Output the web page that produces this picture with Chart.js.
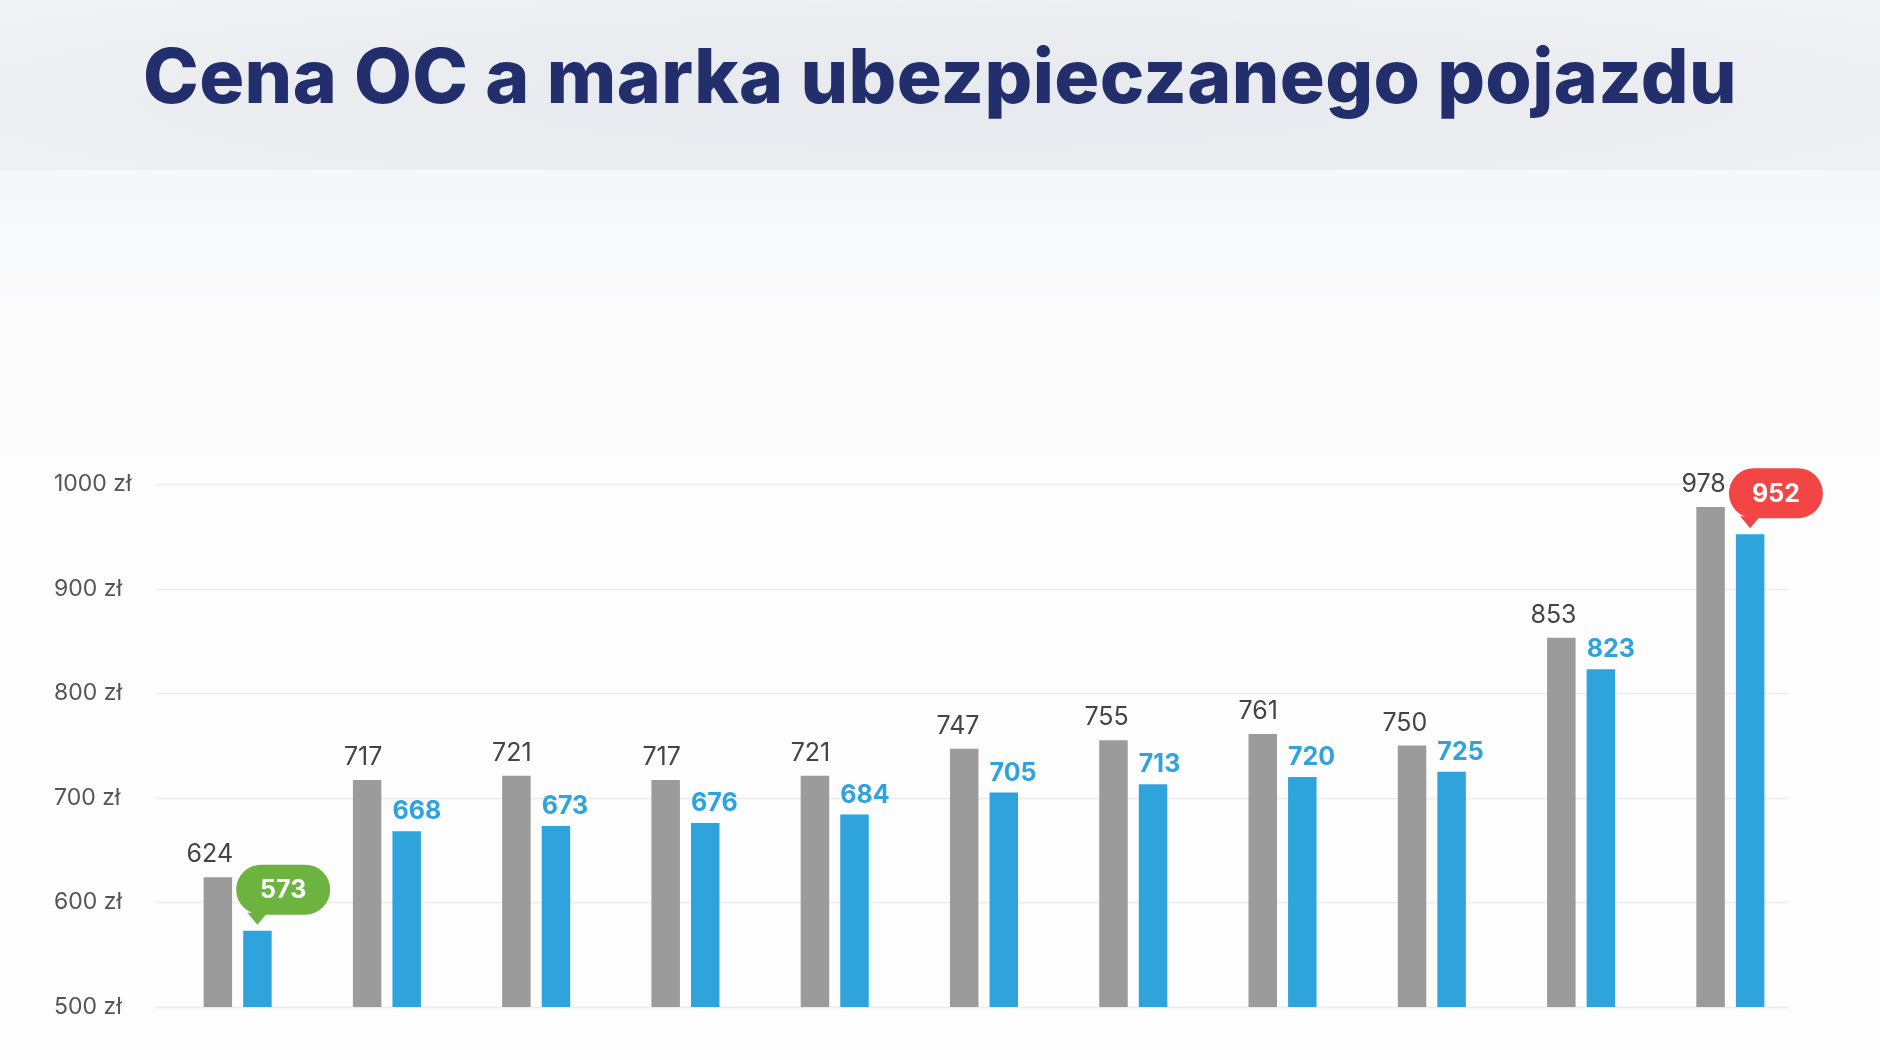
<!DOCTYPE html>
<html>
<head>
<meta charset="utf-8">
<script src="https://cdn.jsdelivr.net/npm/chart.js@4.4.1/dist/chart.umd.min.js"></script>
<style>
    html, body { margin: 0; padding: 0; }
    body {
        width: 1880px; height: 1060px; overflow: hidden; position: relative;
        background: linear-gradient(#f6f7f8 170px, #fbfbfc 330px, #fdfdfd 480px);
        font-family: Inter, "Open Sans", sans-serif;
    }
    #header {
        position: absolute; left: 0; top: 0; width: 1880px; height: 170px;
        background: radial-gradient(ellipse at 50% 60%, #e6e9ee 0%, #ebedf0 55%, #f2f3f5 100%);
    }
    #header h1 {
        margin: 0; position: absolute; left: 0; right: 0; top: 30px;
        text-align: center; color: #232f6c; font-size: 75px; font-weight: 800;
        letter-spacing: 0.4px;
    }
    #wrap { position: absolute; left: 0; top: 0; width: 1880px; height: 1060px; }
</style>
</head>
<body>
<div id="header"><h1>Cena OC a marka ubezpieczanego pojazdu</h1></div>
<div id="wrap"><canvas id="oc_chart"></canvas></div>
<script>
// dane z wykresu
const brands = ['Fiat', 'Škoda', 'Toyota', 'Opel', 'Volkswagen', 'Hyundai', 'Renault', 'Peugeot', 'Ford', 'Audi', 'BMW'];
const grayValues = [624, 717, 721, 717, 721, 747, 755, 761, 750, 853, 978];
const blueValues = [573, 668, 673, 676, 684, 705, 713, 720, 725, 823, 952];
const yTicks = [500, 600, 700, 800, 900, 1000];

const GRAY = '#9b9b9b';
const BLUE = '#2ea3dc';

// grid + opisy osi Y rysowane recznie (linie siegaja dalej niz obszar wykresu)
const gridPlugin = {
    id: 'gridPlugin',
    beforeDatasetsDraw(chart) {
        const ctx = chart.ctx;
        const y = chart.scales.y;
        ctx.save();
        ctx.strokeStyle = '#ececec';
        ctx.lineWidth = 1.5;
        ctx.font = '23px Inter, sans-serif';
        ctx.fillStyle = '#555555';
        ctx.textBaseline = 'middle';
        yTicks.forEach(t => {
            let py = Math.round(y.getPixelForValue(t)) + 0.5;
            ctx.beginPath();
            ctx.moveTo(156, py);
            ctx.lineTo(1789, py);
            ctx.stroke();
            ctx.fillText(t + ' zł', 54, py);
        });
        ctx.restore();
    }
};

function bubble(ctx, bar, text, color) {
    let left = bar.x - bar.width / 2 - 7;
    let w = 94, h = 50, r = 25;
    let bottom = bar.y - 16;
    let top = bottom - h;
    let tipX = bar.x;
    ctx.fillStyle = color;
    ctx.beginPath();
    ctx.roundRect(left, top, w, h, r);
    ctx.fill();
    ctx.beginPath();
    ctx.moveTo(tipX - 10, bottom - 2);
    ctx.lineTo(tipX + 10, bottom - 2);
    ctx.lineTo(tipX, bottom + 10);
    ctx.closePath();
    ctx.fill();
    ctx.fillStyle = '#ffffff';
    ctx.font = 'bold 25px Inter, sans-serif';
    ctx.textAlign = 'center';
    ctx.textBaseline = 'middle';
    ctx.fillText(text, left + w / 2, top + h / 2 + 1);
}

const labelPlugin = {
    id: 'labelPlugin',
    afterDatasetsDraw(chart) {
        const ctx = chart.ctx;
        const grayBars = chart.getDatasetMeta(0).data;
        const blueBars = chart.getDatasetMeta(1).data;
        const minIdx = blueValues.indexOf(Math.min(...blueValues));
        const maxIdx = blueValues.indexOf(Math.max(...blueValues));
        ctx.save();
        grayBars.forEach((bar, i) => {
            ctx.font = '25px Inter, sans-serif';
            ctx.fillStyle = '#444444';
            ctx.textAlign = 'right';
            ctx.textBaseline = 'alphabetic';
            ctx.fillText(grayValues[i], bar.x + bar.width / 2 + 1, bar.y - 15);
        });
        blueBars.forEach((bar, i) => {
            if (i === minIdx) { bubble(ctx, bar, blueValues[i], '#6db33f'); return; }
            if (i === maxIdx) { bubble(ctx, bar, blueValues[i], '#f44545'); return; }
            ctx.font = 'bold 25px Inter, sans-serif';
            ctx.fillStyle = BLUE;
            ctx.textAlign = 'left';
            ctx.textBaseline = 'alphabetic';
            ctx.fillText(blueValues[i], bar.x - bar.width / 2, bar.y - 12);
        });
        ctx.restore();
    }
};

let canvas = document.querySelector('#oc_chart');
let chart = new Chart(canvas, {
    type: 'bar',
    data: {
        labels: brands,
        datasets: [{
            data: grayValues,
            backgroundColor: GRAY,
            barPercentage: 0.72,
            categoryPercentage: 0.53
        }, {
            data: blueValues,
            backgroundColor: BLUE,
            barPercentage: 0.72,
            categoryPercentage: 0.53
        }]
    },
    options: {
        responsive: true,
        maintainAspectRatio: false,
        animation: false,
        layout: { padding: { left: 163, right: 75, top: 484, bottom: 53 } },
        scales: {
            x: { display: false },
            y: { display: false, min: 500, max: 1000 }
        },
        plugins: {
            legend: { display: false },
            tooltip: { enabled: false }
        }
    },
    plugins: [gridPlugin, labelPlugin]
});
</script>
</body>
</html>
